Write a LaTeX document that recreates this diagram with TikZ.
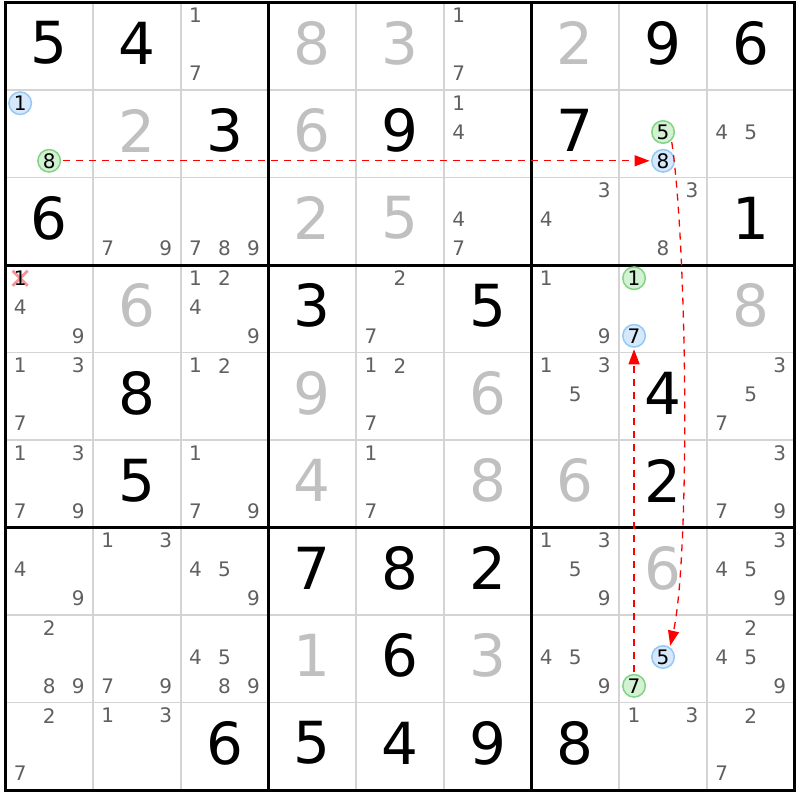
\documentclass[tikz,border=0pt]{standalone}
\usepackage{fontspec}
\setmainfont{DejaVu Sans}
\usetikzlibrary{arrows.meta}
\definecolor{gridgray}{RGB}{212,212,212}
\definecolor{givengray}{RGB}{192,192,192}
\definecolor{candgray}{RGB}{96,96,96}
\definecolor{bfill}{RGB}{214,232,251}
\definecolor{bdraw}{RGB}{150,200,245}
\definecolor{gfill}{RGB}{211,242,211}
\definecolor{gdraw}{RGB}{130,212,130}
\definecolor{xred}{RGB}{244,150,150}
\def\gx{5.3}\def\gy{2.5}\def\cw{87.7}\def\ch{87.5}
\newcommand\Sol[3]{\node[bigdigit] (d#1#2) at ({\gx+\cw*(#2-0.5)},{\gy+\ch*(#1-1)+40.5}) {#3};}
\newcommand\Giv[3]{\node[bigdigit,text=givengray] (d#1#2) at ({\gx+\cw*(#2-0.5)},{\gy+\ch*(#1-1)+40.5}) {#3};}
\newcommand\Cand[3]{\foreach \dd in {#3}{%
  \pgfmathtruncatemacro\qcx{mod(\dd-1,3)}%
  \pgfmathtruncatemacro\qcy{div(\dd-1,3)}%
  \node[cand] (c#1#2-\dd) at ({\gx+\cw*(#2-0.5)+29*(\qcx-1)},{\gy+\ch*(#1-1)+42+28.8*(\qcy-1)}) {\dd};}}
\newcommand\Circ[4]{%
  \pgfmathtruncatemacro\qcx{mod(#3-1,3)}%
  \pgfmathtruncatemacro\qcy{div(#3-1,3)}%
  \node[circ,#4] (c#1#2-#3) at ({\gx+\cw*(#2-0.5)+29*(\qcx-1)},{\gy+\ch*(#1-1)+42+28.8*(\qcy-1)}) {#3};}
\begin{document}
\begin{tikzpicture}[x=1pt,y=-1pt,
  bigdigit/.style={inner sep=0pt,font=\fontsize{58}{58}\selectfont,text=black},
  cand/.style={inner sep=0pt,font=\fontsize{20}{20}\selectfont,text=candgray},
  circ/.style={circle,inner sep=0pt,minimum size=22.5pt,line width=1.5pt,font=\fontsize{20}{20}\selectfont,text=black},
  blue/.style={draw=bdraw,fill=bfill},
  green/.style={draw=gdraw,fill=gfill},
  thingrid/.style={draw=gridgray,line width=1.8pt},
  thickgrid/.style={draw=black,line width=3pt},
  link/.style={draw=red,line width=1.3pt,dash pattern=on 7pt off 6pt,-{Triangle[length=15pt,width=11pt]},shorten >=1.5pt,shorten <=1.5pt},
  xmark/.style={draw=xred,line width=2.8pt}]
\useasboundingbox (0,0) rectangle (800,800);
\fill[white] (0,0) rectangle (800,800);
% thin lines
\foreach \i in {1,2,4,5,7,8}{
  \draw[thingrid] ({\gx+\cw*\i},\gy) -- ({\gx+\cw*\i},{\gy+9*\ch});
  \draw[thingrid] (\gx,{\gy+\ch*\i}) -- ({\gx+9*\cw},{\gy+\ch*\i});
}
% thick lines
\foreach \i in {3,6}{
  \draw[thickgrid] ({\gx+\cw*\i},\gy) -- ({\gx+\cw*\i},{\gy+9*\ch});
  \draw[thickgrid] (\gx,{\gy+\ch*\i}) -- ({\gx+9*\cw},{\gy+\ch*\i});
}
\draw[thickgrid] (\gx,\gy) rectangle ({\gx+9*\cw},{\gy+9*\ch});
% row 1
\Sol{1}{1}{5}\Sol{1}{2}{4}\Cand{1}{3}{1,7}\Giv{1}{4}{8}\Giv{1}{5}{3}\Cand{1}{6}{1,7}\Giv{1}{7}{2}\Sol{1}{8}{9}\Sol{1}{9}{6}
% row 2
\Giv{2}{2}{2}\Sol{2}{3}{3}\Giv{2}{4}{6}\Sol{2}{5}{9}\Cand{2}{6}{1,4}\Sol{2}{7}{7}\Cand{2}{9}{4,5}
% row 3
\Sol{3}{1}{6}\Cand{3}{2}{7,9}\Cand{3}{3}{7,8,9}\Giv{3}{4}{2}\Giv{3}{5}{5}\Cand{3}{6}{4,7}\Cand{3}{7}{3,4}\Cand{3}{8}{3,8}\Sol{3}{9}{1}
% row 4
\draw[xmark] ({\gx+\cw*0.5-29-7.5},{\gy+\ch*3+42-28.8-7.5}) -- ({\gx+\cw*0.5-29+7.5},{\gy+\ch*3+42-28.8+7.5});
\draw[xmark] ({\gx+\cw*0.5-29-7.5},{\gy+\ch*3+42-28.8+7.5}) -- ({\gx+\cw*0.5-29+7.5},{\gy+\ch*3+42-28.8-7.5});
\Cand{4}{1}{4,9}
\node[cand,text=black] (c41-1) at ({\gx+\cw*0.5-29},{\gy+\ch*3+42-28.8}) {1};
\Giv{4}{2}{6}\Cand{4}{3}{1,2,4,9}\Sol{4}{4}{3}\Cand{4}{5}{2,7}\Sol{4}{6}{5}\Cand{4}{7}{1,9}\Giv{4}{9}{8}
% row 5
\Cand{5}{1}{1,3,7}\Sol{5}{2}{8}\Cand{5}{3}{1,2}\Giv{5}{4}{9}\Cand{5}{5}{1,2,7}\Giv{5}{6}{6}\Cand{5}{7}{1,3,5}\Sol{5}{8}{4}\Cand{5}{9}{3,5,7}
% row 6
\Cand{6}{1}{1,3,7,9}\Sol{6}{2}{5}\Cand{6}{3}{1,7,9}\Giv{6}{4}{4}\Cand{6}{5}{1,7}\Giv{6}{6}{8}\Giv{6}{7}{6}\Sol{6}{8}{2}\Cand{6}{9}{3,7,9}
% row 7
\Cand{7}{1}{4,9}\Cand{7}{2}{1,3}\Cand{7}{3}{4,5,9}\Sol{7}{4}{7}\Sol{7}{5}{8}\Sol{7}{6}{2}\Cand{7}{7}{1,3,5,9}\Giv{7}{8}{6}\Cand{7}{9}{3,4,5,9}
% row 8
\Cand{8}{1}{2,8,9}\Cand{8}{2}{7,9}\Cand{8}{3}{4,5,8,9}\Giv{8}{4}{1}\Sol{8}{5}{6}\Giv{8}{6}{3}\Cand{8}{7}{4,5,9}\Cand{8}{9}{2,4,5,9}
% row 9
\Cand{9}{1}{2,7}\Cand{9}{2}{1,3}\Sol{9}{3}{6}\Sol{9}{4}{5}\Sol{9}{5}{4}\Sol{9}{6}{9}\Sol{9}{7}{8}\Cand{9}{8}{1,3}\Cand{9}{9}{2,7}
% circled candidates
\Circ{2}{1}{1}{blue}\Circ{2}{1}{8}{green}
\Circ{2}{8}{5}{green}\Circ{2}{8}{8}{blue}
\Circ{4}{8}{1}{green}\Circ{4}{8}{7}{blue}
\Circ{8}{8}{5}{blue}\Circ{8}{8}{7}{green}
% links
\draw[link] (c21-8) -- (c28-8);
\draw[link] (c28-5.-45) .. controls +(16,110) and +(20,-90) .. (c88-5.55);
\draw[link] (c88-7) -- (c48-7);
\end{tikzpicture}
\end{document}
